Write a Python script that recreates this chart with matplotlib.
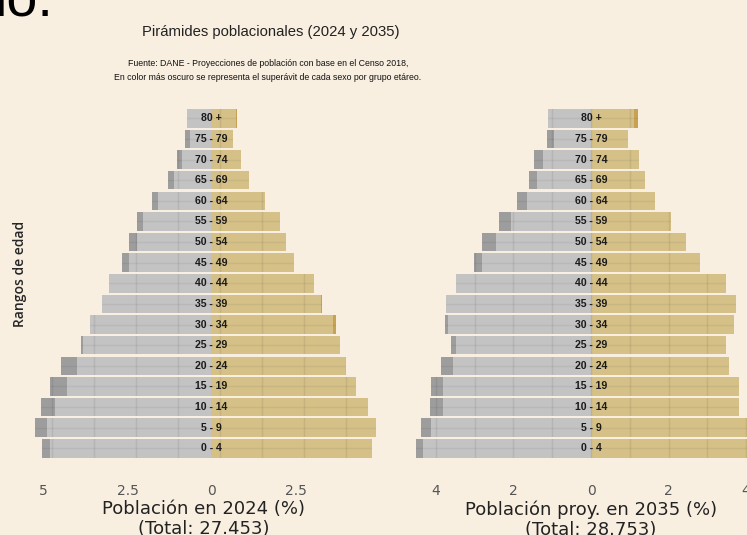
import matplotlib
matplotlib.use("Agg")
import matplotlib.pyplot as plt
from matplotlib.path import Path
from matplotlib.patches import PathPatch
import numpy as np

# datos: porcentaje de poblacion por sexo y grupo de edad (de 0-4 a 80+)
edades = ['0 - 4', '5 - 9', '10 - 14', '15 - 19', '20 - 24', '25 - 29', '30 - 34',
          '35 - 39', '40 - 44', '45 - 49', '50 - 54', '55 - 59', '60 - 64',
          '65 - 69', '70 - 74', '75 - 79', '80 +']
hombres_2024 = [5.04, 5.24, 5.08, 4.79, 4.48, 3.89, 3.62, 3.27, 3.05, 2.65, 2.45,
                2.23, 1.77, 1.30, 1.04, 0.78, 0.74]
mujeres_2024 = [4.79, 4.90, 4.66, 4.29, 4.01, 3.83, 3.72, 3.30, 3.04, 2.46, 2.21,
                2.04, 1.58, 1.11, 0.87, 0.64, 0.77]
hombres_2035 = [4.51, 4.38, 4.16, 4.13, 3.86, 3.60, 3.76, 3.74, 3.48, 3.03, 2.81,
                2.36, 1.91, 1.61, 1.46, 1.14, 1.10]
mujeres_2035 = [4.32, 4.13, 3.82, 3.81, 3.55, 3.48, 3.68, 3.73, 3.47, 2.81, 2.44,
                2.07, 1.66, 1.40, 1.25, 0.96, 1.22]

etiqueta_2024 = 'Población en 2024 (%)\n(Total: 27.453)'
etiqueta_2035 = 'Población proy. en 2035 (%)\n(Total: 28.753)'
ticks_2024 = [-5, -2.5, 0, 2.5]
ticks_2035 = [-4, -2, 0, 2, 4]

fondo = '#F9EFE1'
gris, gris_osc = '#C3C3C3', '#9D9D9D'
oro, oro_osc = '#D5C087', '#C8A252'
sans = ['Liberation Sans', 'DejaVu Sans']

fig = plt.figure(figsize=(7.47, 5.35), dpi=100, facecolor=fondo)
W, H = 747, 535


def piramide(ax, h, m, xlim, ticks, grid_step, etiqueta):
    h = np.array(h)
    m = np.array(m)
    y = np.arange(len(edades))
    mn = np.minimum(h, m)
    ax.set_facecolor(fondo)
    barras = []
    barras += list(ax.barh(y, -mn, height=0.9, color=gris, zorder=2))
    barras += list(ax.barh(y, -(h - mn), left=-mn, height=0.9, color=gris_osc, zorder=2))
    barras += list(ax.barh(y, mn, height=0.9, color=oro, zorder=2))
    barras += list(ax.barh(y, m - mn, left=mn, height=0.9, color=oro_osc, zorder=2))
    # rejilla tenue, visible solo dentro de las barras
    ruta = Path.make_compound_path(*[b.get_path().transformed(b.get_patch_transform())
                                     for b in barras])
    clip = PathPatch(ruta, transform=ax.transData, facecolor='none', edgecolor='none')
    ax.add_patch(clip)
    for gx in np.arange(-6, 6.01, grid_step):
        ln = ax.axvline(gx, color='black', alpha=0.07, lw=1, zorder=3)
        ln.set_clip_path(clip)
    for gy in y:
        ln = ax.axhline(gy, color='black', alpha=0.05, lw=1, zorder=3)
        ln.set_clip_path(clip)
    for yi, lab in zip(y, edades):
        ax.text(0, yi, lab, ha='center', va='center', fontsize=7.6,
                fontweight='bold', family=sans, color='#1a1a1a', zorder=4)
    ax.set_xlim(*xlim)
    ax.set_ylim(-1.0, 16.6)
    ax.set_xticks(ticks)
    ax.set_xticklabels([f'{abs(t):g}' for t in ticks])
    ax.set_yticks([])
    ax.tick_params(axis='x', length=0, pad=11, labelsize=10, labelcolor='#555555')
    for s in ax.spines.values():
        s.set_visible(False)
    ax.set_xlabel(etiqueta, fontsize=13, color='#222222', labelpad=1.5, linespacing=1.15)


bottom = (H - 469) / H
height = (469 - 105.9) / H

ax1 = fig.add_axes([30 / W, bottom, (211.5 - 30 + 4.95 * 33.6) / W, height])
piramide(ax1, hombres_2024, mujeres_2024, (-5.4, 4.95), ticks_2024, 1.25, etiqueta_2024)

ax2 = fig.add_axes([401 / W, bottom, 380 / W, height])
piramide(ax2, hombres_2035, mujeres_2035, (-4.9, 4.9), ticks_2035, 1.0, etiqueta_2035)

fig.text(20 / W, 1 - 274 / H, 'Rangos de edad', rotation=90, ha='center', va='center',
         fontsize=10, fontweight='semibold', family=['Open Sans', 'DejaVu Sans'],
         color='#262626')

fig.text(271 / W, 1 - 32 / H, 'Pirámides poblacionales (2024 y 2035)', ha='center',
         va='center', fontsize=10.7, family=sans, color='#222222')
fig.text(268 / W, 1 - 70.5 / H,
         'Fuente: DANE - Proyecciones de población con base en el Censo 2018,\n'
         'En color más oscuro se representa el superávit de cada sexo por grupo etáreo.',
         ha='center', va='center', fontsize=6.3, family=sans, color='#111111',
         linespacing=1.8)

# fragmento de texto cortado arriba a la izquierda
fig.text(-6 / W, 1 - 16 / H, 'lo.', ha='left', va='baseline', fontsize=40,
         family=sans, color='black')

fig.savefig('out.png', dpi=100, facecolor=fondo)
